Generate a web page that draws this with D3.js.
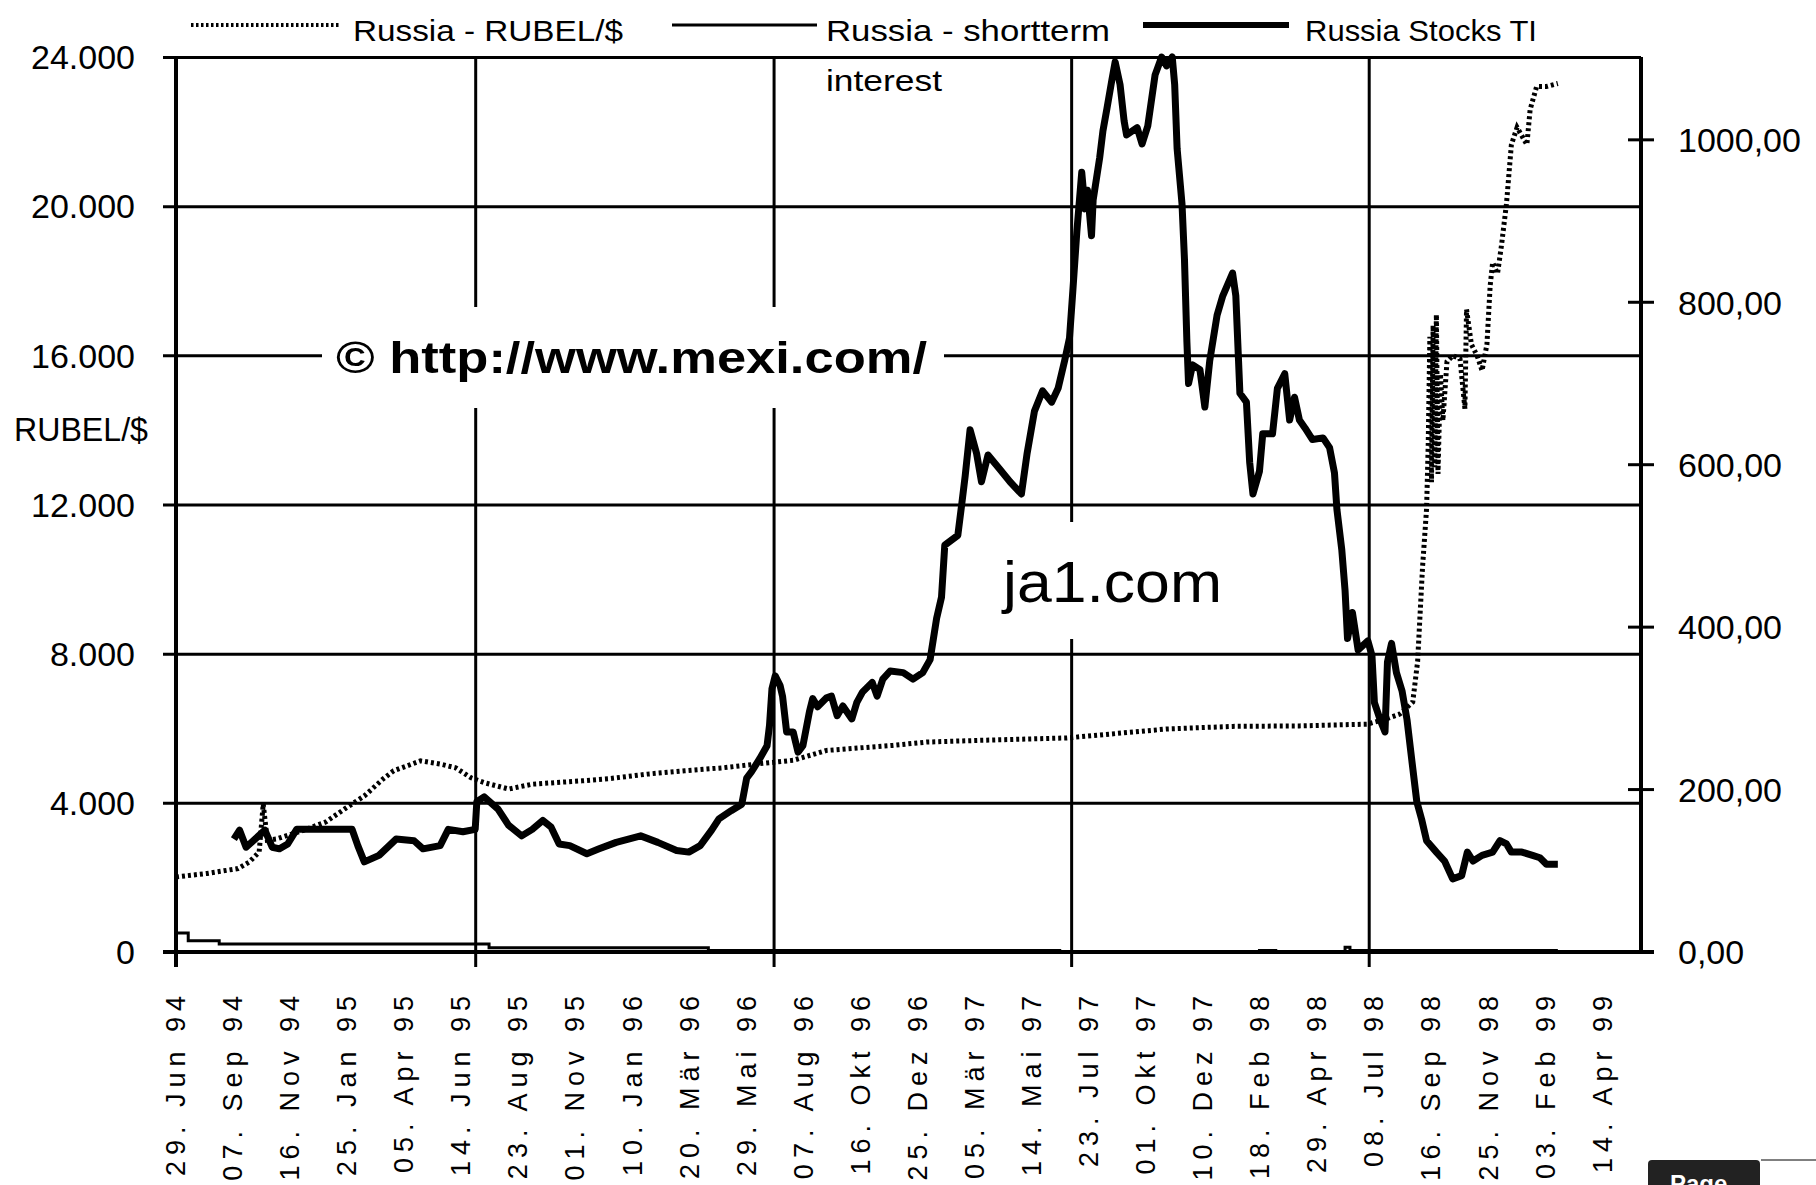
<!DOCTYPE html>
<meta charset="utf-8">
<script src="https://cdn.jsdelivr.net/npm/d3@7"></script>
<style>
body { margin: 0; background: #fff; }
text { font-family: "Liberation Sans", Arial, sans-serif; fill: #000; }
</style>
<body>
<script>

// ---- data ----
var rubelDates = ["1994-06-29","1994-08-06","1994-09-13","1994-09-27","1994-10-09","1994-10-14","1994-10-19","1994-10-30",
  "1994-12-02","1994-12-30","1995-01-22","1995-02-15","1995-03-10","1995-03-23","1995-04-25","1995-05-19","1995-06-07",
  "1995-06-26","1995-07-14","1995-08-11","1995-09-09","1995-11-09","1995-12-13","1996-01-28","1996-03-14","1996-04-30",
  "1996-06-14","1996-07-25","1996-09-04","1996-11-24","1997-01-05","1997-03-11","1997-06-26","1997-10-26","1998-01-15",
  "1998-04-07","1998-06-29","1998-07-18","1998-08-08","1998-08-24","1998-08-30","1998-09-05","1998-09-10","1998-09-12",
  "1998-09-14","1998-09-16","1998-09-18","1998-09-20","1998-09-22","1998-09-24","1998-09-27","1998-09-30","1998-10-05",
  "1998-10-12","1998-10-21","1998-10-27","1998-10-29","1998-11-04","1998-11-11","1998-11-17","1998-11-23","1998-11-27",
  "1998-11-30","1998-12-06","1998-12-11","1998-12-17","1998-12-23","1998-12-30","1999-01-11","1999-01-15","1999-01-23",
  "1999-02-04","1999-02-18"]
var rubelValues = [2012,2106,2238,2415,2683,3970,3000,3030,
  3260,3490,3840,4185,4640,4860,5125,5040,4940,
  4670,4530,4370,4500,4590,4650,4770,4860,4940,
  5050,5140,5405,5540,5630,5675,5740,5980,6050,
  6063,6110,6220,6380,6700,7790,10310,11890,13620,
  16500,12600,16800,13000,17090,12820,15500,14250,15830,
  15990,15910,14570,17230,16290,15990,15590,16290,17870,
  18490,18190,18970,20070,21650,22110,21650,22590,23210,
  23210,23290]

var interestDates = ["1994-06-29","1994-07-14","1994-08-21","1995-07-18","1996-04-12","1997-06-17","1998-02-17",
  "1998-03-09","1998-06-02","1998-06-08","1999-02-18"]
var interestValues = [510,300,215,115,40,0,40,0,130,40,40]

var stockDates = ["1994-09-08","1994-09-15","1994-09-23","1994-10-04","1994-10-16","1994-10-25","1994-11-03","1994-11-13",
  "1994-11-24","1995-01-08","1995-01-31","1995-02-07","1995-02-15","1995-03-05","1995-03-26","1995-04-17","1995-04-28",
  "1995-05-19","1995-05-29","1995-06-16","1995-07-01","1995-07-03","1995-07-12","1995-07-29","1995-08-11","1995-08-27",
  "1995-09-09","1995-09-22","1995-10-02","1995-10-12","1995-10-25","1995-11-15","1995-11-30","1995-12-21","1996-01-20",
  "1996-02-10","1996-03-04","1996-03-19","1996-04-02","1996-04-16","1996-04-25","1996-05-10","1996-05-23","1996-05-29",
  "1996-06-04","1996-06-14","1996-06-23","1996-06-26","1996-06-29","1996-07-03","1996-07-09","1996-07-12","1996-07-17",
  "1996-07-25","1996-07-31","1996-08-06","1996-08-14","1996-08-18","1996-08-24","1996-09-04","1996-09-10","1996-09-17",
  "1996-09-24","1996-10-05","1996-10-11","1996-10-18","1996-10-30","1996-11-05","1996-11-12","1996-11-21","1996-12-07",
  "1996-12-19","1996-12-31","1997-01-09","1997-01-17","1997-01-23","1997-01-27","1997-02-12","1997-02-17","1997-02-21",
  "1997-02-27","1997-03-07","1997-03-13","1997-03-21","1997-04-04","1997-04-17","1997-05-01","1997-05-08","1997-05-17",
  "1997-05-27","1997-06-07","1997-06-15","1997-06-23","1997-06-29","1997-07-03","1997-07-08","1997-07-14","1997-07-18",
  "1997-07-21","1997-07-26","1997-07-28","1997-08-05","1997-08-09","1997-08-14","1997-08-20","1997-08-24","1997-08-30",
  "1997-09-04","1997-09-07","1997-09-20","1997-09-26","1997-10-03","1997-10-12","1997-10-20","1997-10-26","1997-11-02",
  "1997-11-05","1997-11-08","1997-11-14","1997-11-17","1997-11-20","1997-11-22","1997-11-27","1997-12-06","1997-12-12",
  "1997-12-18","1997-12-27","1998-01-03","1998-01-15","1998-01-19","1998-01-24","1998-02-01","1998-02-05","1998-02-09",
  "1998-02-17","1998-02-21","1998-03-05","1998-03-11","1998-03-20","1998-03-26","1998-04-01","1998-04-07","1998-04-14",
  "1998-04-23","1998-05-06","1998-05-14","1998-05-20","1998-05-23","1998-05-29","1998-06-02","1998-06-05","1998-06-11",
  "1998-06-18","1998-06-30","1998-07-05","1998-07-08","1998-07-15","1998-07-21","1998-07-24","1998-07-29","1998-08-04",
  "1998-08-11","1998-08-17","1998-08-23","1998-08-29","1998-09-04","1998-09-10","1998-09-22","1998-10-02","1998-10-12",
  "1998-10-23","1998-10-30","1998-11-06","1998-11-17","1998-11-30","1998-12-09","1998-12-17","1998-12-23","1999-01-05",
  "1999-01-18","1999-01-27","1999-02-04","1999-02-18"]
var stockValues = [139,150,129,139,150,129,127,133,
  151,151,151,131,111,119,139,137,127,
  131,151,148,151,185,191,176,156,143,
  151,162,154,133,131,121,127,135,143,
  135,125,123,131,150,164,174,182,214,
  222,238,254,279,324,340,328,315,271,
  271,246,254,296,312,302,313,315,291,
  303,287,307,320,332,315,336,346,344,
  336,344,360,411,437,501,513,553,586,
  643,614,579,612,595,579,564,614,666,
  691,677,694,728,756,813,887,960,915,
  938,882,926,978,1011,1039,1074,1096,1068,
  1023,1006,1015,995,1017,1080,1102,1091,1102,
  1068,989,921,853,751,700,723,717,671,
  728,784,808,836,808,688,677,603,564,
  592,638,638,694,712,655,683,655,645,
  631,633,621,590,545,495,445,386,418,
  372,383,365,307,286,271,357,380,344,
  321,286,235,185,163,137,123,112,90,
  94,123,112,119,123,137,133,123,123,
  119,116,108,108]

var tickDates = ["1994-06-29","1994-09-07","1994-11-16","1995-01-25","1995-04-05","1995-06-14","1995-08-23",
  "1995-11-01","1996-01-10","1996-03-20","1996-05-29","1996-08-07","1996-10-16","1996-12-25","1997-03-05",
  "1997-05-14","1997-07-23","1997-10-01","1997-12-10","1998-02-18","1998-04-29","1998-07-08","1998-09-16",
  "1998-11-25","1999-02-03","1999-04-14"]
var yearLines = ["1995-07-01","1996-07-01","1997-07-01","1998-07-01"]
var leftTicks = [0, 4000, 8000, 12000, 16000, 20000, 24000]
var rightTicks = [0, 200, 400, 600, 800, 1000]

var parse = d3.timeParse("%Y-%m-%d")
var de = d3.timeFormatLocale({
  dateTime: "%A, der %e. %B %Y, %X", date: "%d.%m.%Y", time: "%H:%M:%S", periods: ["AM", "PM"],
  days: ["Sonntag","Montag","Dienstag","Mittwoch","Donnerstag","Freitag","Samstag"],
  shortDays: ["So","Mo","Di","Mi","Do","Fr","Sa"],
  months: ["Januar","Februar","März","April","Mai","Juni","Juli","August","September","Oktober","November","Dezember"],
  shortMonths: ["Jan","Feb","Mär","Apr","Mai","Jun","Jul","Aug","Sep","Okt","Nov","Dez"]
})
var deNum = d3.formatLocale({decimal: ",", thousands: ".", grouping: [3], currency: ["", " €"]})
var fmtLeft = deNum.format(",.0f")
var fmtRight = deNum.format(".2f")
var fmtDate = de.format("%d. %b %y")

var width = 1816, height = 1185
var plotL = 176, plotR = 1641, plotT = 57, plotB = 952

var svg = d3.select("body").append("svg")
            .attr("width", width)
            .attr("height", height)
            .style("display", "block")

var x = d3.scaleTime().domain([parse("1994-06-29"), parse("1999-05-31")]).range([plotL, plotR])
var yL = d3.scaleLinear().domain([0, 24000]).range([plotB, plotT])
var yR = d3.scaleLinear().domain([0, 1102]).range([plotB, plotT])

// horizontal grid + left ticks
svg.append("g")
   .attr("transform", "translate(" + plotR + ",0)")
   .call(d3.axisLeft(yL).tickValues(leftTicks).tickSize(plotR - plotL + 13).tickFormat(""))
   .call(g => g.select(".domain").remove())
   .call(g => g.selectAll("line").attr("stroke", "#000").attr("stroke-width", 3))

// vertical grid lines (yearly) with ticks below axis
svg.append("g")
   .attr("transform", "translate(0," + plotT + ")")
   .call(d3.axisBottom(x).tickValues(yearLines.map(parse)).tickSize(plotB - plotT + 15).tickFormat(""))
   .call(g => g.select(".domain").remove())
   .call(g => g.selectAll("line").attr("stroke", "#000").attr("stroke-width", 3))

// watermark boxes
svg.append("rect").attr("x", 322).attr("y", 307).attr("width", 622).attr("height", 101).attr("fill", "#fff")
svg.append("rect").attr("x", 985).attr("y", 522).attr("width", 250).attr("height", 117).attr("fill", "#fff")

svg.append("text").attr("x", 336).attr("y", 373)
   .attr("font-size", 44).attr("font-weight", "bold")
   .attr("textLength", 591).attr("lengthAdjust", "spacingAndGlyphs")
   .text("© http://www.mexi.com/")
svg.append("text").attr("x", 1003).attr("y", 602)
   .attr("font-size", 58)
   .attr("textLength", 219).attr("lengthAdjust", "spacingAndGlyphs")
   .text("ja1.com")

// axes lines
svg.append("line").attr("x1", plotL).attr("x2", plotL).attr("y1", plotT).attr("y2", plotB + 15)
   .attr("stroke", "#000").attr("stroke-width", 4)
svg.append("line").attr("x1", plotR).attr("x2", plotR).attr("y1", plotT).attr("y2", plotB)
   .attr("stroke", "#000").attr("stroke-width", 4)
svg.append("line").attr("x1", plotL - 13).attr("x2", plotR + 13).attr("y1", plotB).attr("y2", plotB)
   .attr("stroke", "#000").attr("stroke-width", 4)

// left tick labels
svg.append("g").selectAll("text").data(leftTicks).join("text")
   .attr("x", 135).attr("y", d => yL(d)).attr("dy", "0.36em")
   .attr("text-anchor", "end").attr("font-size", 34)
   .text(d => fmtLeft(d))

svg.append("text").attr("x", 14).attr("y", 441).attr("font-size", 33)
   .attr("textLength", 134).attr("lengthAdjust", "spacingAndGlyphs")
   .text("RUBEL/$")

// right axis ticks + labels
svg.append("g").selectAll("line").data(rightTicks).join("line")
   .attr("x1", plotR - 13).attr("x2", plotR + 13)
   .attr("y1", d => yR(d)).attr("y2", d => yR(d))
   .attr("stroke", "#000").attr("stroke-width", 3)
svg.append("g").selectAll("text").data(rightTicks).join("text")
   .attr("x", 1678).attr("y", d => yR(d)).attr("dy", "0.36em")
   .attr("font-size", 34)
   .text(d => fmtRight(d))

// x labels, rotated
svg.append("g").selectAll("text").data(tickDates.map(parse)).join("text")
   .attr("transform", d => "translate(" + (x(d) + 9) + ",990) rotate(-90)")
   .attr("text-anchor", "end").attr("font-size", 27)
   .style("letter-spacing", "6px")
   .text(d => fmtDate(d))

// series
var rubel = rubelDates.map((d, i) => ({date: parse(d), value: rubelValues[i]}))
var interest = interestDates.map((d, i) => ({date: parse(d), value: interestValues[i]}))
var stocks = stockDates.map((d, i) => ({date: parse(d), value: stockValues[i]}))

svg.append("path")
   .attr("d", d3.line().x(d => x(d.date)).y(d => yL(d.value)).curve(d3.curveStepAfter)(interest))
   .attr("fill", "none").attr("stroke", "#000").attr("stroke-width", 3)

svg.append("path")
   .attr("d", d3.line().x(d => x(d.date)).y(d => yL(d.value))(rubel))
   .attr("fill", "none").attr("stroke", "#000").attr("stroke-width", 5)
   .attr("stroke-dasharray", "3 3")

svg.append("path")
   .attr("d", d3.line().x(d => x(d.date)).y(d => yR(d.value))(stocks))
   .attr("fill", "none").attr("stroke", "#000").attr("stroke-width", 7)
   .attr("stroke-linejoin", "round")

// legend
var legend = svg.append("g")
legend.append("line").attr("x1", 191).attr("x2", 339).attr("y1", 25).attr("y2", 25)
      .attr("stroke", "#000").attr("stroke-width", 4).attr("stroke-dasharray", "2.5 2.5")
legend.append("text").attr("x", 353).attr("y", 41).attr("font-size", 30)
      .attr("textLength", 270).attr("lengthAdjust", "spacingAndGlyphs").text("Russia - RUBEL/$")
legend.append("line").attr("x1", 672).attr("x2", 817).attr("y1", 25).attr("y2", 25)
      .attr("stroke", "#000").attr("stroke-width", 3)
legend.append("text").attr("x", 826).attr("y", 41).attr("font-size", 30)
      .attr("textLength", 284).attr("lengthAdjust", "spacingAndGlyphs").text("Russia - shortterm")
legend.append("text").attr("x", 826).attr("y", 91).attr("font-size", 30)
      .attr("textLength", 116).attr("lengthAdjust", "spacingAndGlyphs").text("interest")
legend.append("line").attr("x1", 1143).attr("x2", 1289).attr("y1", 25).attr("y2", 25)
      .attr("stroke", "#000").attr("stroke-width", 6)
legend.append("text").attr("x", 1305).attr("y", 41).attr("font-size", 30)
      .attr("textLength", 232).attr("lengthAdjust", "spacingAndGlyphs").text("Russia Stocks TI")

// page button remnant bottom right
svg.append("rect").attr("x", 1648).attr("y", 1160).attr("width", 112).attr("height", 40).attr("rx", 4).attr("fill", "#222")
svg.append("text").attr("x", 1670).attr("y", 1192).attr("font-size", 24).attr("font-weight", "bold")
   .style("fill", "#fff").text("Page")
svg.append("line").attr("x1", 1761).attr("x2", 1816).attr("y1", 1160).attr("y2", 1160)
   .attr("stroke", "#000").attr("stroke-width", 1)

</script>
</body>
